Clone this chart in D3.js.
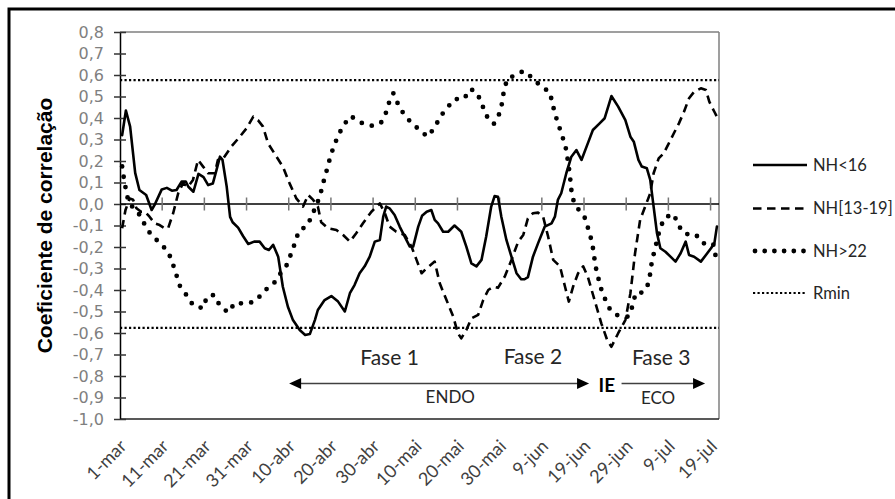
<!DOCTYPE html>
<html><head><meta charset="utf-8">
<script src="https://cdn.jsdelivr.net/npm/d3@7"></script>
<style>body{margin:0;background:#fff} svg{display:block}</style>
</head><body><svg id="c" width="895" height="499"></svg>
<script>
// ---- data ----
const xLabels = ["1-mar","11-mar","21-mar","31-mar","10-abr","20-abr","30-abr","10-mai","20-mai","30-mai","9-jun","19-jun","29-jun","9-jul","19-jul"];
const xLabelDays = [0,10,20,30,40,50,60,70,80,90,100,110,120,130,140];
const nDays = 142;
const yTicks = [-1,-0.9,-0.8,-0.7,-0.6,-0.5,-0.4,-0.3,-0.2,-0.1,0,0.1,0.2,0.3,0.4,0.5,0.6,0.7,0.8];
const rmin = 0.576;
const seriesNames = ["NH<16","NH[13-19]","NH>22","Rmin"];

// [day index, correlation]
const nh16 = [[0,0.32],[0.9,0.435],[1.9,0.36],[3.1,0.145],[4.1,0.065],[5.7,0.042],[7,-0.028],[7.8,0],[9.4,0.068],[10.6,0.075],[11.8,0.062],[12.9,0.065],[14.1,0.104],[15.1,0.104],[15.7,0.08],[16.9,0.057],[18.1,0.14],[19.3,0.125],[20.4,0.088],[21.5,0.095],[22.4,0.16],[23.2,0.22],[23.8,0.205],[24.8,0.08],[25.6,-0.06],[26.2,-0.085],[27.5,-0.11],[28.7,-0.15],[29.9,-0.186],[31.3,-0.175],[32.6,-0.175],[33.8,-0.206],[34.8,-0.214],[35.8,-0.19],[37,-0.245],[38.1,-0.385],[39.3,-0.478],[40.5,-0.54],[42.1,-0.586],[43.4,-0.609],[44.5,-0.605],[45.7,-0.54],[46.4,-0.493],[48,-0.447],[49.6,-0.428],[51.2,-0.454],[52.8,-0.5],[54,-0.415],[55.1,-0.377],[56.3,-0.322],[57.5,-0.29],[58.7,-0.245],[59.9,-0.175],[61.1,-0.167],[61.9,-0.059],[62.6,-0.012],[63.4,-0.02],[64.6,-0.051],[65.8,-0.105],[67,-0.152],[68.2,-0.198],[69,-0.198],[70.2,-0.105],[71.1,-0.055],[72.2,-0.036],[73.3,-0.028],[74.1,-0.074],[74.9,-0.09],[76.1,-0.129],[77.3,-0.129],[78.8,-0.1],[80.4,-0.129],[81.6,-0.198],[82.8,-0.276],[84,-0.29],[85.2,-0.26],[86.3,-0.152],[87.5,-0.012],[88.3,0.037],[89.1,0.034],[89.9,-0.059],[91.1,-0.167],[92.3,-0.245],[93.5,-0.322],[94.6,-0.35],[95.4,-0.35],[96.2,-0.34],[97.4,-0.245],[98.6,-0.183],[100.2,-0.105],[101.8,-0.09],[102.6,-0.059],[103.3,0.019],[104.1,0.05],[105.3,0.143],[106.5,0.22],[107.7,0.251],[108.9,0.205],[110.4,0.282],[111.6,0.344],[113.2,0.375],[114.4,0.399],[116,0.502],[117.6,0.453],[119.3,0.39],[120.5,0.313],[121.3,0.29],[122.4,0.205],[123.2,0.174],[124.4,0.166],[125.2,0.112],[126,-0.012],[126.8,-0.136],[127.6,-0.206],[128.8,-0.222],[130,-0.245],[131.2,-0.268],[132.4,-0.229],[133.6,-0.175],[134.4,-0.237],[135.6,-0.245],[137.2,-0.268],[138.4,-0.237],[139.6,-0.206],[140.4,-0.183],[141,-0.105]];

const nh1319 = [[0,-0.113],[0.8,-0.028],[1.8,0.026],[2.6,0.02],[3.4,-0.02],[4.5,-0.036],[5.4,-0.036],[6.5,-0.059],[7.7,-0.09],[8.9,-0.098],[10.1,-0.113],[10.9,-0.113],[12.1,-0.043],[13.3,0.05],[14.4,0.096],[15.6,0.08],[16.8,0.112],[18,0.205],[19.2,0.174],[20.4,0.143],[22,0.143],[22.7,0.205],[23.9,0.21],[25.9,0.267],[27.9,0.313],[29.5,0.352],[31.1,0.406],[32.2,0.39],[33.4,0.36],[34.6,0.282],[36.6,0.22],[38.1,0.174],[39.7,0.096],[41.3,0.026],[42.9,-0.012],[44.1,0.042],[45.3,0.019],[46.4,-0.012],[47.2,-0.085],[48.8,-0.113],[50.8,-0.121],[52.4,-0.144],[54,-0.175],[55.5,-0.136],[57.1,-0.09],[59.1,-0.036],[61.1,0.003],[62.3,-0.043],[63.4,-0.105],[65,-0.129],[67,-0.144],[68.6,-0.198],[69.8,-0.26],[71,-0.322],[72.2,-0.299],[74.1,-0.268],[75.3,-0.369],[76.9,-0.447],[78.5,-0.524],[79.6,-0.601],[80.4,-0.625],[81.6,-0.586],[82.8,-0.532],[84.4,-0.516],[85.6,-0.447],[86.8,-0.4],[88,-0.385],[89.1,-0.39],[90.7,-0.338],[92.3,-0.26],[93.9,-0.175],[95.1,-0.144],[96.2,-0.067],[97.4,-0.043],[98.6,-0.04],[99.8,-0.059],[101,-0.152],[102.2,-0.26],[103.8,-0.29],[105,-0.385],[105.9,-0.454],[106.9,-0.385],[108.1,-0.322],[109.3,-0.29],[110.4,-0.338],[112,-0.447],[113.6,-0.555],[115,-0.633],[116,-0.664],[117.6,-0.601],[119.3,-0.54],[120.5,-0.415],[121.6,-0.229],[122.8,-0.074],[124,-0.012],[125.2,0.05],[126,0.143],[127.2,0.212],[128.4,0.236],[129.6,0.282],[130.8,0.329],[132,0.375],[133.2,0.429],[134.4,0.492],[135.6,0.522],[137.2,0.538],[138.4,0.53],[139.2,0.476],[140.4,0.429],[141,0.406]];

const nh22 = [[0,0.175],[0.45,0.115],[1,0.057],[1.56,0.006],[2.8,-0.02],[4.4,-0.056],[5.5,-0.102],[6.9,-0.144],[8.9,-0.18],[10.9,-0.222],[11.9,-0.271],[12.8,-0.326],[13.7,-0.381],[15.3,-0.425],[16.9,-0.473],[19.2,-0.485],[20.1,-0.431],[21.8,-0.423],[23.1,-0.47],[25.1,-0.505],[26.8,-0.459],[29.5,-0.465],[31.8,-0.45],[33.6,-0.405],[35.8,-0.374],[37.4,-0.327],[39.1,-0.282],[40.1,-0.229],[41.1,-0.175],[41.9,-0.124],[43.9,-0.102],[45,-0.053],[46.2,0],[47.1,0.053],[47.8,0.107],[48.6,0.163],[49.3,0.215],[50.2,0.27],[51.3,0.321],[52.5,0.367],[54.2,0.409],[56.4,0.38],[58.9,0.363],[61.3,0.375],[62.5,0.422],[63.3,0.473],[64.3,0.515],[65.4,0.465],[66.8,0.417],[68.7,0.375],[70.6,0.343],[72.4,0.313],[74.1,0.355],[75.4,0.406],[77.1,0.448],[78.8,0.488],[81,0.488],[82.6,0.535],[84.1,0.518],[85.3,0.465],[86.2,0.414],[88.1,0.372],[89.4,0.419],[90.1,0.471],[90.5,0.527],[91.3,0.581],[93.2,0.6],[95.2,0.619],[97.1,0.589],[99.2,0.549],[101.4,0.52],[102,0.468],[102.7,0.414],[103.6,0.36],[104.5,0.306],[105.3,0.251],[105.7,0.197],[106.1,0.143],[106.4,0.084],[106.7,0.029],[108.1,-0.023],[109.9,-0.07],[110.6,-0.124],[111.4,-0.177],[111.8,-0.229],[112.2,-0.287],[112.8,-0.338],[113.6,-0.397],[114.6,-0.447],[115.8,-0.496],[117.7,-0.521],[120,-0.524],[121.1,-0.47],[121.7,-0.415],[122.9,-0.415],[124.4,-0.392],[125.1,-0.335],[125.5,-0.279],[126.1,-0.225],[126.8,-0.171],[127.5,-0.113],[128.7,-0.062],[130.8,-0.047],[131.8,-0.098],[133.4,-0.14],[135.9,-0.14],[137.7,-0.183],[140.1,-0.183],[140.7,-0.242]];

// ---- drawing ----
const svg = d3.select("#c");
const L = 120, R = 719, T = 32, B = 419;
const x = d3.scaleLinear().domain([-0.5, nDays - 0.5]).range([L, R]);
const y = d3.scaleLinear().domain([-1, 0.8]).range([B, T]);
const lato = "Lato, 'Open Sans', sans-serif";

// outer frame
svg.append("rect").attr("x", 9).attr("y", 9).attr("width", 900).attr("height", 500)
  .attr("fill", "none").attr("stroke", "#000").attr("stroke-width", 3);

// plot area border
svg.append("line").attr("x1", L).attr("x2", R).attr("y1", T).attr("y2", T).attr("stroke", "#7f7f7f").attr("stroke-width", 1.5);
svg.append("line").attr("x1", R).attr("x2", R).attr("y1", T).attr("y2", B).attr("stroke", "#7f7f7f").attr("stroke-width", 1.5);
svg.append("line").attr("x1", L).attr("x2", R).attr("y1", B).attr("y2", B).attr("stroke", "#222").attr("stroke-width", 1.5);

// Rmin lines
[rmin, -rmin].forEach(v => {
  svg.append("line").attr("x1", L).attr("x2", R).attr("y1", y(v)).attr("y2", y(v))
    .attr("stroke", "#000").attr("stroke-width", 2.2).attr("stroke-dasharray", "2.2 2.3");
});

// y axis
const yAxis = d3.axisLeft(y).tickValues(yTicks).tickSize(0).tickPadding(0)
  .tickFormat(d => d3.format(".1f")(d).replace(".", ",").replace("−", "-"));
const gy = svg.append("g").attr("transform", `translate(${L},0)`).call(yAxis);
gy.select(".domain").attr("stroke", "#000").attr("stroke-width", 1.5);
gy.selectAll(".tick text").attr("x", -16).attr("fill", "#7f7f7f")
  .style("font-family", "'DejaVu Sans', sans-serif").style("font-size", "16px");
gy.selectAll(".tick").append("line").attr("x1", -6).attr("x2", 6).attr("stroke", "#333").attr("stroke-width", 1.5);

// x axis at y=0
svg.append("line").attr("x1", L).attr("x2", R).attr("y1", y(0)).attr("y2", y(0)).attr("stroke", "#000").attr("stroke-width", 1.5);
svg.selectAll(".xtick").data(xLabelDays.slice(1)).enter().append("line")
  .attr("x1", d => x(d - 0.5)).attr("x2", d => x(d - 0.5))
  .attr("y1", y(0) - 6.5).attr("y2", y(0) + 6.5).attr("stroke", "#777").attr("stroke-width", 1.5);

// x labels
svg.selectAll(".xlab").data(xLabels).enter().append("text")
  .attr("transform", (d, i) => `translate(${x(xLabelDays[i]) + 1},443) rotate(-45)`)
  .attr("text-anchor", "end").attr("dy", "0.35em")
  .attr("fill", "#404040").style("font-family", lato).style("font-size", "18px")
  .text(d => d);

// y title
svg.append("text").attr("transform", `translate(52,${(T + B) / 2}) rotate(-90)`)
  .attr("text-anchor", "middle").attr("fill", "#000")
  .style("font-family", "'Liberation Sans', Arial, sans-serif").style("font-weight", "bold").style("font-size", "21px")
  .text("Coeficiente de correlação");

// series
const line = d3.line().x(d => x(d[0])).y(d => y(d[1]));
svg.append("path").datum(nh22).attr("d", line).attr("fill", "none").attr("stroke", "#000")
  .attr("stroke-width", 4.8).attr("stroke-linecap", "round").attr("stroke-dasharray", "0 10.5");
svg.append("path").datum(nh1319).attr("d", line).attr("fill", "none").attr("stroke", "#000")
  .attr("stroke-width", 2.6).attr("stroke-dasharray", "8.5 5.5").attr("stroke-linejoin", "round");
svg.append("path").datum(nh16).attr("d", line).attr("fill", "none").attr("stroke", "#000")
  .attr("stroke-width", 2.6).attr("stroke-linejoin", "round").attr("stroke-linecap", "round");

// annotations
function arrowHead(tipX, tipY, dir) {
  const len = 12, hw = 5.5;
  svg.append("path").attr("d", `M${tipX},${tipY} L${tipX - dir * len},${tipY - hw} L${tipX - dir * len},${tipY + hw} Z`).attr("fill", "#000");
}
const ay = y(-0.835);
svg.append("line").attr("x1", x(39.6) + 8).attr("x2", x(110.7) - 8).attr("y1", ay).attr("y2", ay).attr("stroke", "#404040").attr("stroke-width", 1.5);
arrowHead(x(39.6), ay, -1);
arrowHead(x(110.7), ay, 1);
svg.append("line").attr("x1", x(118.4)).attr("x2", x(138.2) - 8).attr("y1", ay).attr("y2", ay).attr("stroke", "#404040").attr("stroke-width", 1.5);
arrowHead(x(138.2), ay, 1);

const notes = [
  {t: "Fase 1", d: 63.4, v: -0.749, s: 21, w: "normal"},
  {t: "Fase 2", d: 97.4, v: -0.742, s: 21, w: "normal"},
  {t: "Fase 3", d: 127.8, v: -0.749, s: 21, w: "normal"},
  {t: "ENDO", d: 77.8, v: -0.924, s: 17, w: "normal"},
  {t: "ECO", d: 127.05, v: -0.932, s: 17, w: "normal"},
  {t: "IE", d: 114.9, v: -0.873, s: 19, w: "bold"}
];
svg.selectAll(".note").data(notes).enter().append("text")
  .attr("x", d => x(d.d)).attr("y", d => y(d.v)).attr("text-anchor", "middle")
  .attr("fill", d => d.w === "bold" ? "#000" : "#262626")
  .style("font-family", lato).style("font-size", d => d.s + "px").style("font-weight", d => d.w)
  .text(d => d.t);

// legend
const legY = [165, 208.5, 251, 293];
const legStyles = [
  {w: 2.6, dash: null, cap: "butt"},
  {w: 2.6, dash: "8.5 5.5", cap: "butt"},
  {w: 4.8, dash: "0 9.7", cap: "round"},
  {w: 2, dash: "2.2 2.3", cap: "butt"}
];
seriesNames.forEach((n, i) => {
  const st = legStyles[i];
  const ln = svg.append("line").attr("x1", i === 2 ? 755 : 753).attr("x2", 807).attr("y1", legY[i]).attr("y2", legY[i])
    .attr("stroke", "#000").attr("stroke-width", st.w).attr("stroke-linecap", st.cap);
  if (st.dash) ln.attr("stroke-dasharray", st.dash);
  svg.append("text").attr("x", 813).attr("y", legY[i]).attr("dy", "0.36em").attr("fill", "#262626")
    .style("font-family", lato).style("font-size", "16.5px").text(n);
});
</script>
</body></html>
